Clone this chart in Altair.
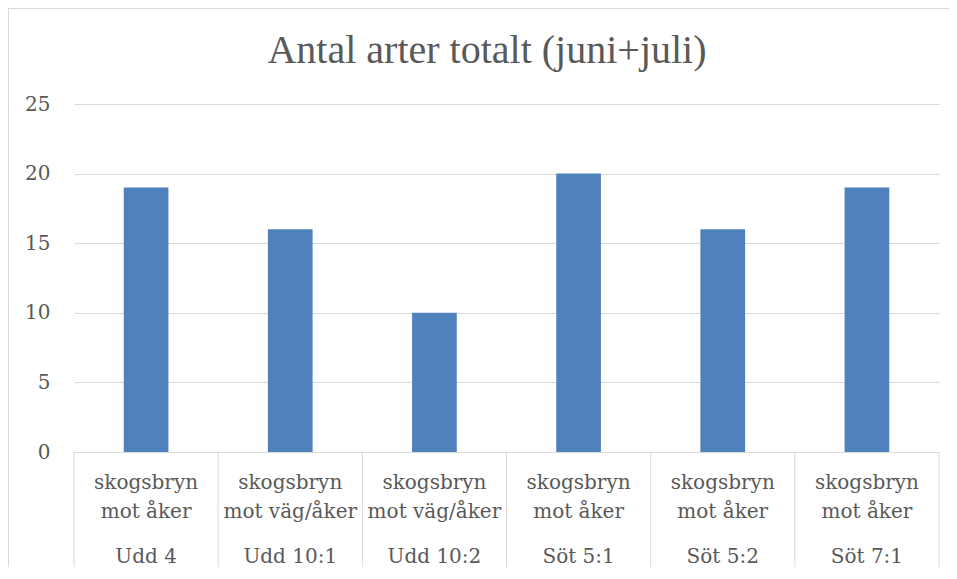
import altair as alt
import pandas as pd

sites = ["Udd 4", "Udd 10:1", "Udd 10:2", "Söt 5:1", "Söt 5:2", "Söt 7:1"]
habitats = [
    "skogsbryn\nmot åker",
    "skogsbryn\nmot väg/åker",
    "skogsbryn\nmot väg/åker",
    "skogsbryn\nmot åker",
    "skogsbryn\nmot åker",
    "skogsbryn\nmot åker",
]
values = [19, 16, 10, 20, 16, 19]
y_ticks = [0, 5, 10, 15, 20, 25]
title_text = "Antal arter totalt (juni+juli)"

df = pd.DataFrame({"site": sites, "habitat": habitats, "value": values})
one = pd.DataFrame({"t": [title_text]})

W, H = 865, 348
GRAY = "#d9d9d9"
TXT = "#595959"
LABEL_FONT = "DejaVu Serif"

xscale = alt.Scale(domain=sites, paddingInner=0, paddingOuter=0)

bars = alt.Chart(df).mark_bar(
    color="#4F81BD", width=alt.RelativeBandSize(0.31)
).encode(
    x=alt.X("site:N", scale=xscale, sort=sites,
            axis=alt.Axis(title=None, labels=False, domainColor=GRAY,
                          ticks=False, grid=False)),
    y=alt.Y("value:Q", scale=alt.Scale(domain=[0, 25]),
            axis=alt.Axis(title=None, values=y_ticks, grid=True,
                          gridColor=GRAY, domain=False, ticks=False,
                          labelPadding=24, labelFont=LABEL_FONT,
                          labelFontSize=20, labelColor=TXT)),
)

# category separators at the start of each band, plus the closing one
sep = alt.Chart(df).mark_rule(color=GRAY, strokeWidth=1).encode(
    x=alt.X("site:N", scale=xscale, sort=sites, axis=None, bandPosition=0),
    y=alt.value(H),
    y2=alt.value(H + 116),
)
sep_end = alt.Chart(one).mark_rule(color=GRAY, strokeWidth=1).encode(
    x=alt.value(W), y=alt.value(H), y2=alt.value(H + 116)
)

hab_text = alt.Chart(df).mark_text(
    baseline="alphabetic", lineBreak="\n", lineHeight=29,
    font=LABEL_FONT, fontSize=20, color=TXT
).encode(
    x=alt.X("site:N", scale=xscale, sort=sites, axis=None),
    y=alt.value(H + 37),
    text="habitat:N",
)

site_text = alt.Chart(df).mark_text(
    baseline="alphabetic", font=LABEL_FONT, fontSize=20, color=TXT
).encode(
    x=alt.X("site:N", scale=xscale, sort=sites, axis=None),
    y=alt.value(H + 111),
    text="site:N",
)

title = alt.Chart(one).mark_text(
    baseline="alphabetic", align="center", font="Liberation Serif",
    fontSize=40, color=TXT
).encode(
    x=alt.value(413), y=alt.value(-41), text="t:N"
)

top_rule = alt.Chart(one).mark_rule(color=GRAY, strokeWidth=1).encode(
    x=alt.value(-66), x2=alt.value(W + 10), y=alt.value(-95.5)
)
left_rule = alt.Chart(one).mark_rule(color=GRAY, strokeWidth=1).encode(
    x=alt.value(-65.5), y=alt.value(-96), y2=alt.value(H + 115)
)

chart = alt.layer(
    bars, sep, sep_end, hab_text, site_text, title, top_rule, left_rule
).properties(
    width=W, height=H,
    background="white",
    autosize=alt.AutoSizeParams(type="none"),
    padding={"left": 66, "top": 96, "right": 10, "bottom": 115},
).configure_view(stroke=None)

chart.save("out.html", embed_options={"renderer": "svg", "actions": False})
